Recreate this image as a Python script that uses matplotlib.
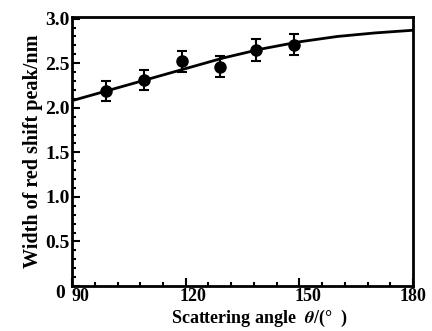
import numpy as np
import matplotlib.pyplot as plt
import matplotlib.transforms as mtransforms
from matplotlib.ticker import MultipleLocator

# measured points
angle = [99, 109, 119, 129, 138.5, 148.5]
width = [2.19, 2.31, 2.52, 2.46, 2.65, 2.71]
err = [0.11, 0.11, 0.12, 0.12, 0.12, 0.12]

# fitted curve
fit_angle = [90, 100, 110, 120, 130, 140, 150, 160, 170, 180]
fit_width = [2.08, 2.20, 2.32, 2.44, 2.56, 2.66, 2.74, 2.80, 2.84, 2.87]

xticks = [90, 120, 150, 180]
yticks = [0, 0.5, 1.0, 1.5, 2.0, 2.5, 3.0]
ytick_labels = ['0', '0.5', '1.0', '1.5', '2.0', '2.5', '3.0']

plt.rcParams['font.family'] = ['Liberation Serif', 'DejaVu Serif']
plt.rcParams['font.weight'] = 'bold'
plt.rcParams['mathtext.fontset'] = 'stix'

fig = plt.figure(figsize=(4.32, 3.31), dpi=100)
ax = fig.add_axes([0.167, 0.136, 0.789, 0.813])

ax.plot(fit_angle, fit_width, color='black', lw=2)
ax.errorbar(angle, width, yerr=err, fmt='o', color='black', ms=8,
            elinewidth=1.5, capsize=3.5, capthick=1.5)

ax.set_xlim(90, 180)
ax.set_ylim(0, 3.02)
ax.set_xticks(xticks)
ax.xaxis.set_minor_locator(MultipleLocator(6))
ax.set_yticks(yticks)
ax.set_yticklabels(ytick_labels)
ax.yaxis.set_minor_locator(MultipleLocator(0.1))
ax.tick_params(which='both', direction='in', width=1.5)
ax.tick_params(which='major', length=6)
ax.tick_params(which='minor', length=3)
ax.tick_params(axis='y', pad=2, labelsize=14)
ax.tick_params(axis='x', pad=1, labelsize=13)
for s in ax.spines.values():
    s.set_linewidth(2)

# nudge tick labels like the printed figure
dpi_scale = fig.dpi_scale_trans
for lab, dx in zip(ax.get_xticklabels(), [8, 7, 9, 0]):
    lab.set_transform(lab.get_transform() + mtransforms.ScaledTranslation(dx / 100, -1 / 100, dpi_scale))
ylabs = ax.get_yticklabels()
ylabs[0].set_transform(ylabs[0].get_transform() + mtransforms.ScaledTranslation(-4 / 100, -6 / 100, dpi_scale))

ax.set_ylabel('Width of red shift peak/nm', fontsize=14.5, fontweight='bold', labelpad=1)
ax.set_xlabel(r'Scattering angle  $\theta$/(°  )', fontsize=13, fontweight='bold')
ax.xaxis.set_label_coords(0.55, -0.08)

fig.savefig('out.png', dpi=100)
